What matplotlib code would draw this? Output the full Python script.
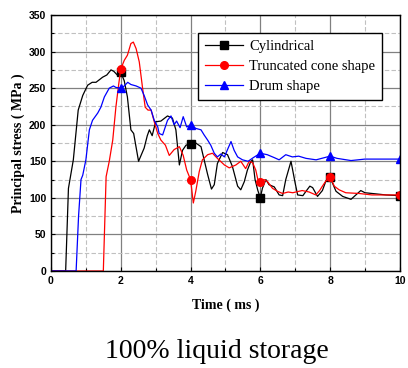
import numpy as np
import matplotlib
matplotlib.use("Agg")
from matplotlib import pyplot as plt
from matplotlib.ticker import MultipleLocator

# Cylindrical (black)
t_cyl = [0, 0.42, 0.50, 0.64, 0.78, 0.91, 1.05, 1.18, 1.29, 1.40, 1.48, 1.60, 1.72, 1.80, 1.90,
         2.0, 2.1, 2.19, 2.29, 2.37, 2.51, 2.67, 2.76, 2.82, 2.9, 3.0, 3.15, 3.34, 3.48, 3.58,
         3.68, 3.77, 3.87, 4.0, 4.15, 4.3, 4.39, 4.49, 4.6, 4.68, 4.77, 4.92, 5.06, 5.2, 5.35,
         5.44, 5.54, 5.63, 5.73, 5.78, 5.85, 5.93, 6.0, 6.06, 6.16, 6.25, 6.4, 6.54, 6.64, 6.73,
         6.88, 7.0, 7.07, 7.22, 7.31, 7.42, 7.5, 7.64, 7.78, 7.88, 8.0, 8.17, 8.36, 8.6, 8.88,
         9.0, 9.2, 9.6, 10.0]
s_cyl = [0, 0, 113, 152, 220, 240, 254, 258, 258, 262, 265, 268, 275, 273, 268,
         272, 260, 238, 193, 188, 150, 168, 185, 193, 185, 204, 205, 212, 209, 193,
         145, 165, 172, 174, 175, 170, 152, 132, 112, 118, 147, 162, 159, 143, 116,
         111, 122, 138, 150, 152, 125, 110, 100, 113, 125, 118, 115, 104, 103, 125,
         150, 120, 104, 103, 109, 116, 114, 102, 110, 123, 128, 109, 102, 98, 110,
         107, 106, 104, 103]

# Truncated cone shape (red)
t_cone = [0, 1.50, 1.58, 1.67, 1.77, 1.86, 1.94, 2.0, 2.1, 2.19, 2.29, 2.36, 2.44, 2.53, 2.62,
          2.7, 2.78, 2.87, 2.96, 3.06, 3.15, 3.28, 3.39, 3.53, 3.68, 3.79, 3.89, 4.0, 4.08,
          4.15, 4.25, 4.34, 4.49, 4.63, 4.77, 4.97, 5.11, 5.3, 5.44, 5.58, 5.68, 5.78, 5.87,
          5.93, 6.0, 6.11, 6.21, 6.35, 6.49, 6.64, 6.8, 6.93, 7.2, 7.4, 7.59, 7.7, 7.78, 7.88,
          8.0, 8.12, 8.26, 8.45, 8.83, 9.2, 9.6, 10.0]
s_cone = [0, 0, 129, 150, 179, 224, 255, 276, 288, 295, 311, 313, 304, 286, 252,
          224, 220, 220, 204, 188, 179, 172, 158, 166, 170, 158, 138, 125, 93,
          109, 136, 152, 159, 161, 154, 145, 141, 145, 150, 140, 150, 148, 138,
          125, 122, 125, 122, 113, 109, 106, 108, 107, 110, 108, 104, 110, 116, 123,
          129, 116, 111, 107, 106, 104, 104, 104]

# Drum shape (blue)
t_drum = [0, 0.72, 0.79, 0.86, 0.91, 1.0, 1.1, 1.19, 1.34, 1.43, 1.53, 1.67, 1.79, 1.86, 2.0,
          2.1, 2.2, 2.29, 2.44, 2.58, 2.67, 2.77, 2.87, 2.96, 3.06, 3.1, 3.2, 3.34, 3.44, 3.53,
          3.6, 3.7, 3.79, 3.89, 4.0, 4.15, 4.3, 4.39, 4.49, 4.58, 4.68, 4.77, 4.87, 4.97, 5.06,
          5.16, 5.25, 5.35, 5.49, 5.65, 5.8, 6.0, 6.2, 6.4, 6.54, 6.73, 6.92, 7.1, 7.31, 7.6,
          8.0, 8.2, 8.6, 9.0, 9.5, 10.0]
s_drum = [0, 0, 75, 125, 131, 152, 193, 206, 216, 224, 238, 250, 253, 251, 250,
          253, 258, 255, 253, 250, 240, 227, 220, 206, 197, 188, 186, 206, 212, 200,
          205, 196, 211, 197, 199, 195, 193, 186, 179, 172, 161, 156, 160, 156, 166,
          177, 165, 156, 152, 150, 155, 161, 159, 155, 152, 159, 156, 157, 154, 152,
          157, 154, 151, 153, 153, 153]

mark_t = [2, 4, 6, 8, 10]

series = [
    ("Cylindrical", t_cyl, s_cyl, "black", "s"),
    ("Truncated cone shape", t_cone, s_cone, "red", "o"),
    ("Drum shape", t_drum, s_drum, "blue", "^"),
]

fig = plt.figure(figsize=(4.08, 3.68), dpi=100)
ax = fig.add_axes([0.125, 0.2636, 0.855, 0.6956])

for name, t, s, col, mk in series:
    idx = [i for i, v in enumerate(t) if v in mark_t]
    ax.plot(t, s, color=col, lw=0.9, marker=mk, markersize=5.5,
            markevery=idx, label=name)

ax.set_xlim(0, 10)
ax.set_ylim(0, 350)
ax.xaxis.set_major_locator(MultipleLocator(2))
ax.xaxis.set_minor_locator(MultipleLocator(1))
ax.yaxis.set_major_locator(MultipleLocator(50))
ax.yaxis.set_minor_locator(MultipleLocator(25))
ax.grid(which="major", color="#808080", lw=0.9, ls="-")
ax.grid(which="minor", color="#c0c0c0", lw=0.8, ls=(0, (4, 2)))
ax.set_axisbelow(True)
ax.tick_params(which="both", direction="in", length=3, width=0.8)
ax.tick_params(which="minor", length=2)
for sp in ax.spines.values():
    sp.set_linewidth(1.0)
for lab in ax.get_xticklabels() + ax.get_yticklabels():
    lab.set_family("Liberation Sans")
    lab.set_fontweight("bold")
    lab.set_fontsize(7.5)

ax.set_xlabel("Time ( ms )", family="Liberation Serif", fontweight="bold",
              fontsize=10, labelpad=9)
ax.set_ylabel("Principal stress ( MPa )", family="Liberation Serif", fontweight="bold",
              fontsize=10, labelpad=3)

leg = ax.legend(loc="upper left", bbox_to_anchor=(0.421, 0.93),
                prop={"family": "Liberation Serif", "size": 10.5},
                fancybox=False, framealpha=1, edgecolor="black",
                handlelength=2.6, handletextpad=0.4, borderpad=0.5,
                labelspacing=0.45, borderaxespad=0)
leg.get_frame().set_linewidth(1.0)

fig.text(0.532, 0.046, "100% liquid storage", family="Liberation Serif",
         fontsize=20, ha="center", va="center")

fig.savefig("out.png", dpi=100)
